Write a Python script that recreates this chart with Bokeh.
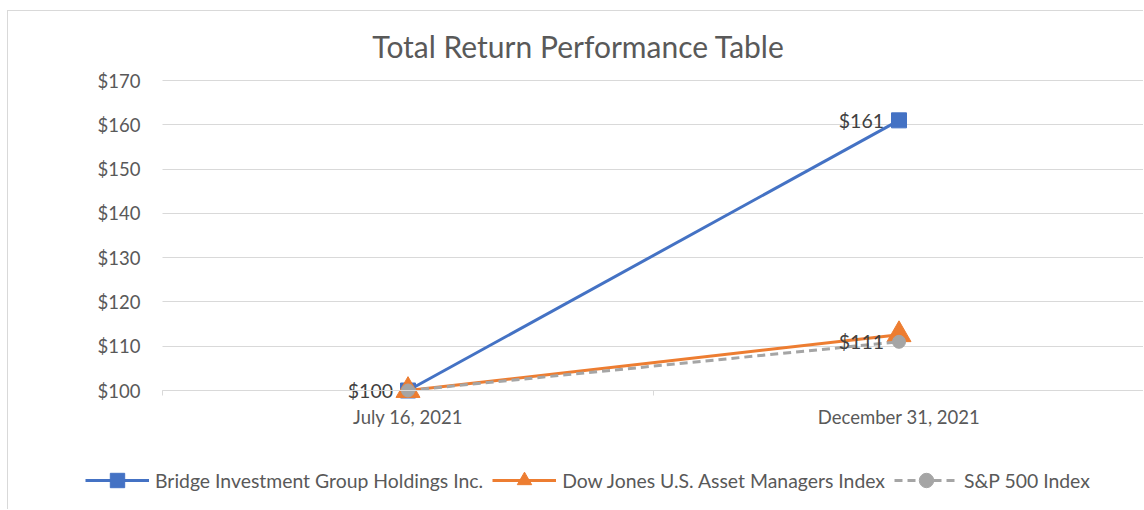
from bokeh.plotting import figure
from bokeh.models import (Range1d, FixedTicker, Legend, LegendItem, Label,
                          NumeralTickFormatter)
from bokeh.core.properties import value
from bokeh.embed import file_html
from bokeh.resources import INLINE

categories = ["July 16, 2021", "December 31, 2021"]
bridge = [100, 161]
dow_jones = [100, 112.6]
sp500 = [100, 111]
series_names = ["Bridge Investment Group Holdings Inc.",
                "Dow Jones U.S. Asset Managers Index",
                "S&P 500 Index"]
y_ticks = [100, 110, 120, 130, 140, 150, 160, 170]

FONT = "Lato"
TXT = "#595959"
GRID = "#d9d9d9"

xs = [i + 0.5 for i in range(len(categories))]

# frame covers the whole canvas; axes are pinned inside it
PXY = (390 - 80) / (y_ticks[-1] - y_ticks[0])   # px per y unit
PXX = 491.0                                      # px per category
y_lo = y_ticks[0] - 120 / PXY
y_hi = y_ticks[-1] + 69 / PXY
x_lo = -154 / PXX
x_hi = len(categories)

p = figure(width=1136, height=499, output_backend="svg", toolbar_location=None,
           x_range=Range1d(x_lo, x_hi), y_range=Range1d(y_lo, y_hi),
           min_border_left=0, min_border_right=0, min_border_top=0, min_border_bottom=0)
p.styles = {"margin-left": "7px", "margin-top": "10px",
            "border-left": "1px solid #d9d9d9", "border-top": "1px solid #d9d9d9"}
p.outline_line_color = None
p.background_fill_color = "white"
p.border_fill_color = "white"

# axes
p.xaxis.fixed_location = y_ticks[0]
p.xaxis.bounds = (0, len(categories))
p.xaxis.ticker = FixedTicker(ticks=xs, minor_ticks=list(range(len(categories) + 1)))
p.xaxis.major_label_overrides = {x: c for x, c in zip(xs, categories)}
p.xaxis.major_tick_line_color = None
p.xaxis.minor_tick_line_color = GRID
p.xaxis.minor_tick_out = 5
p.xaxis.minor_tick_in = 0
p.xaxis.axis_line_color = GRID
p.xaxis.major_label_text_font = FONT
p.xaxis.major_label_text_font_size = "18.5px"
p.xaxis.major_label_text_color = TXT
p.xaxis.major_label_standoff = 9
p.xgrid.grid_line_color = None

p.yaxis.fixed_location = 0
p.yaxis.ticker = FixedTicker(ticks=y_ticks)
p.yaxis.formatter = NumeralTickFormatter(format="$0")
p.yaxis.axis_line_color = None
p.yaxis.major_tick_line_color = None
p.yaxis.minor_tick_line_color = None
p.yaxis.major_label_text_font = FONT
p.yaxis.major_label_text_font_size = "18.5px"
p.yaxis.major_label_text_color = TXT
p.yaxis.major_label_standoff = 16
p.ygrid.grid_line_color = GRID
p.ygrid.grid_line_width = 1
p.ygrid.cross_bounds = (0, len(categories))

p.add_layout(Label(x=(578 - 162) / PXX, y=y_ticks[-1] + 35 / PXY,
                   text="Total Return Performance Table", text_align="center",
                   text_baseline="middle", text_font=FONT, text_font_size="30px",
                   text_color=TXT))

colors = ["#4472C4", "#ED7D31", "#A5A5A5"]
b_line = p.line(xs, bridge, line_color=colors[0], line_width=3)
b_mark = p.scatter(xs, bridge, marker="square", size=15, fill_color=colors[0], line_color=colors[0])
d_line = p.line(xs, dow_jones, line_color=colors[1], line_width=3)
d_mark = p.scatter(xs, dow_jones, marker="triangle", size=24, fill_color=colors[1], line_color=colors[1])
s_line = p.line(xs, sp500, line_color=colors[2], line_width=3, line_dash="8 5")
s_mark = p.scatter(xs, sp500, marker="circle", size=13, fill_color=colors[2], line_color=colors[2])

# data labels
lab_x = [xs[0], xs[1], xs[1]]
lab_y = [bridge[0], bridge[1], sp500[1]]
lab_t = ["$%d" % round(v) for v in lab_y]
p.text(lab_x, lab_y, text=lab_t, text_align="right", text_baseline="middle",
       x_offset=-15, text_font=value(FONT), text_font_size="19.5px", text_color="#404040")

legend = Legend(items=[LegendItem(label=series_names[0], renderers=[b_line, b_mark]),
                       LegendItem(label=series_names[1], renderers=[d_line, d_mark]),
                       LegendItem(label=series_names[2], renderers=[s_line, s_mark])],
                orientation="horizontal", location=(77, 12),
                glyph_width=64, glyph_height=36, label_standoff=6, spacing=9,
                padding=0, margin=0, border_line_color=None, background_fill_alpha=0,
                label_text_font=FONT, label_text_font_size="19.4px", label_text_color=TXT)
p.add_layout(legend, "center")

open("out.html", "w").write(file_html(p, INLINE))
